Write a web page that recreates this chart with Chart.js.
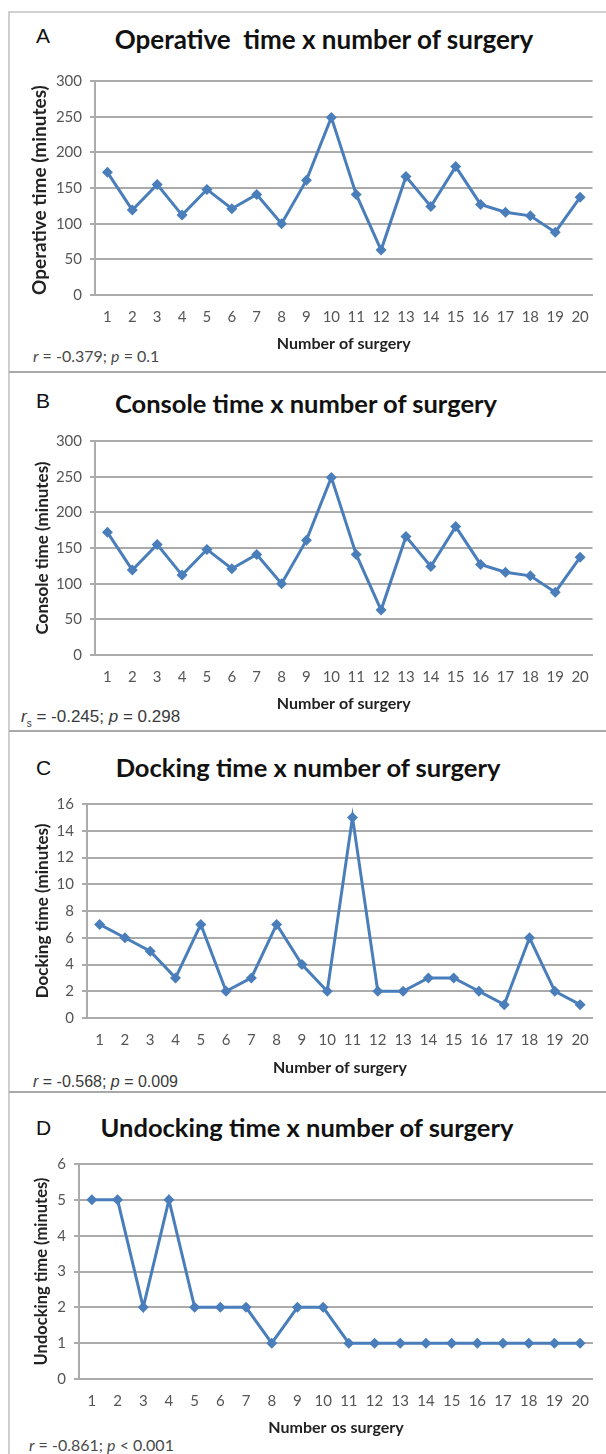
<!DOCTYPE html>
<html>
<head>
<meta charset="utf-8">
<script src="https://cdn.jsdelivr.net/npm/chart.js@4.4.1/dist/chart.umd.min.js"></script>
<style>
  html, body { margin: 0; padding: 0; background: #fff; }
  #page { position: relative; width: 606px; height: 1454px; overflow: hidden; }
  .frame { position: absolute; left: 8px; top: 11px; width: 610px; height: 1460px;
           border-left: 2px solid #cfcfcf; border-top: 2px solid #cfcfcf; }
  .sep { position: absolute; left: 9px; width: 600px; height: 2px; background: #a8a8a8; }
  .letter { position: absolute; left: 36px; font: 21px "Liberation Sans", Arial, sans-serif;
            color: #111; line-height: 1; transform: translateY(-50%); }
  .title { position: absolute; font: bold 25.5px Lato, sans-serif; color: #111; line-height: 1;
           white-space: nowrap; transform: translate(-50%, -50%); }
  .stat { position: absolute; font: 16px Lato, sans-serif; color: #4a4a4a; line-height: 1;
          white-space: nowrap; transform: translateY(-50%); }
  .stat.arial { font: 16px "Liberation Sans", Arial, sans-serif; color: #3a3a3a; }
  canvas { position: absolute; }
</style>
</head>
<body>
<div id="page">
  <div class="frame"></div>
  <div class="sep" style="top:371px"></div>
  <div class="sep" style="top:730px"></div>
  <div class="sep" style="top:1091px"></div>

  <div class="letter" style="top:35px">A</div>
  <div class="title" style="left:324px;top:39px;font-size:26px">Operative&nbsp; time x number of surgery</div>
  <div class="stat" style="left:33px;top:356px"><i>r</i> = -0.379; <i>p</i> = 0.1</div>
  <canvas id="chartA"></canvas>

  <div class="letter" style="top:400px">B</div>
  <div class="title" style="left:306px;top:404px">Console time x number of surgery</div>
  <div class="stat arial" style="left:21px;top:718px;font-size:17px"><i>r</i><sub style="font-size:10px">s</sub> = -0.245; <i>p</i> = 0.298</div>
  <canvas id="chartB"></canvas>

  <div class="letter" style="top:767px">C</div>
  <div class="title" style="left:308px;top:768px">Docking time x number of surgery</div>
  <div class="stat arial" style="left:33px;top:1082px"><i>r</i> = -0.568; <i>p</i> = 0.009</div>
  <canvas id="chartC"></canvas>

  <div class="letter" style="top:1127px">D</div>
  <div class="title" style="left:307px;top:1128px">Undocking time x number of surgery</div>
  <div class="stat" style="left:29px;top:1445px"><i>r</i> = -0.861; <i>p</i> &lt; 0.001</div>
  <canvas id="chartD"></canvas>
</div>

<script>
// data
const surgeryNumbers = ['1', '2', '3', '4', '5', '6', '7', '8', '9', '10',
                        '11', '12', '13', '14', '15', '16', '17', '18', '19', '20'];
const operativeTime = [172, 119, 155, 112, 148, 121, 141, 100, 161, 249, 141, 63, 166, 124, 180, 127, 116, 111, 88, 137];
const consoleTime = [172, 119, 155, 112, 148, 121, 141, 100, 161, 249, 141, 63, 166, 124, 180, 127, 116, 111, 88, 137];
const dockingTime = [7, 6, 5, 3, 7, 2, 3, 7, 4, 2, 15, 2, 2, 3, 3, 2, 1, 6, 2, 1];
const undockingTime = [5, 5, 2, 5, 2, 2, 2, 1, 2, 2, 1, 1, 1, 1, 1, 1, 1, 1, 1, 1];
const minuteTicks = [0, 50, 100, 150, 200, 250, 300];
const dockingTicks = [0, 2, 4, 6, 8, 10, 12, 14, 16];
const undockingTicks = [0, 1, 2, 3, 4, 5, 6];

const LINE_BLUE = '#4a7ebb';
const GRID_GREY = '#ababab';
const CANVAS_LEFT = 10;

function makeChart(id, box, values, ticks, yTitle, xTitle) {
    const canvas = document.getElementById(id);
    const top = box.plotTop - 14;
    const width = 602 - CANVAS_LEFT;
    const height = box.plotBottom - top + box.xHeight;
    canvas.width = width;
    canvas.height = height;
    canvas.style.left = CANVAS_LEFT + 'px';
    canvas.style.top = top + 'px';
    canvas.style.width = width + 'px';
    canvas.style.height = height + 'px';

    return new Chart(canvas.getContext('2d'), {
        type: 'line',
        data: {
            labels: surgeryNumbers,
            datasets: [{
                data: values,
                borderColor: LINE_BLUE,
                backgroundColor: LINE_BLUE,
                borderWidth: 3,
                tension: 0,
                pointStyle: 'rectRot',
                pointRadius: 5.5,
                pointBorderWidth: 0,
                fill: false,
                clip: false
            }]
        },
        options: {
            responsive: false,
            animation: false,
            events: [],
            layout: { padding: { top: 14, right: 602 - box.plotRight, bottom: 0, left: 0 } },
            plugins: { legend: { display: false }, tooltip: { enabled: false } },
            scales: {
                x: {
                    offset: true,
                    grid: { display: false, drawTicks: false },
                    border: { display: true, color: GRID_GREY, width: 2 },
                    ticks: { color: '#555', padding: 13, maxRotation: 0, autoSkip: false,
                             font: { family: 'Lato', size: 15 } },
                    title: { display: true, text: xTitle, color: '#222', padding: 0,
                             font: { family: 'Lato', size: 16, weight: 'bold' } },
                    afterFit: s => { s.height = box.xHeight; }
                },
                y: {
                    min: ticks[0],
                    max: ticks[ticks.length - 1],
                    ticks: { stepSize: ticks[1] - ticks[0], color: '#555', padding: 8,
                             font: { family: 'Lato', size: 15 } },
                    grid: { color: GRID_GREY, lineWidth: 2, tickLength: 5 },
                    border: { display: true, color: GRID_GREY, width: 2 },
                    title: { display: true, text: yTitle, color: '#222', align: box.yAlign,
                             padding: { top: box.yTitlePad, bottom: 0 },
                             font: { family: 'Lato', size: box.yTitleSize, weight: 'bold' } },
                    afterFit: s => { s.width = box.plotLeft - CANVAS_LEFT; }
                }
            }
        }
    });
}

makeChart('chartA', { plotLeft: 95, plotRight: 594, plotTop: 78, plotBottom: 295, xHeight: 58,
                      yAlign: 'start', yTitlePad: 18, yTitleSize: 19 },
          operativeTime, minuteTicks, 'Operative time (minutes)', 'Number of surgery');
makeChart('chartB', { plotLeft: 95, plotRight: 594, plotTop: 438, plotBottom: 655, xHeight: 58,
                      yAlign: 'center', yTitlePad: 22, yTitleSize: 17 },
          consoleTime, minuteTicks, 'Console time (minutes)', 'Number of surgery');
makeChart('chartC', { plotLeft: 87, plotRight: 594, plotTop: 801, plotBottom: 1018, xHeight: 59,
                      yAlign: 'center', yTitlePad: 22, yTitleSize: 17 },
          dockingTime, dockingTicks, 'Docking time (minutes)', 'Number of surgery');
makeChart('chartD', { plotLeft: 79, plotRight: 595, plotTop: 1161, plotBottom: 1379, xHeight: 58,
                      yAlign: 'center', yTitlePad: 22, yTitleSize: 16.5 },
          undockingTime, undockingTicks, 'Undocking time (minutes)', 'Number os surgery');
</script>
</body>
</html>
